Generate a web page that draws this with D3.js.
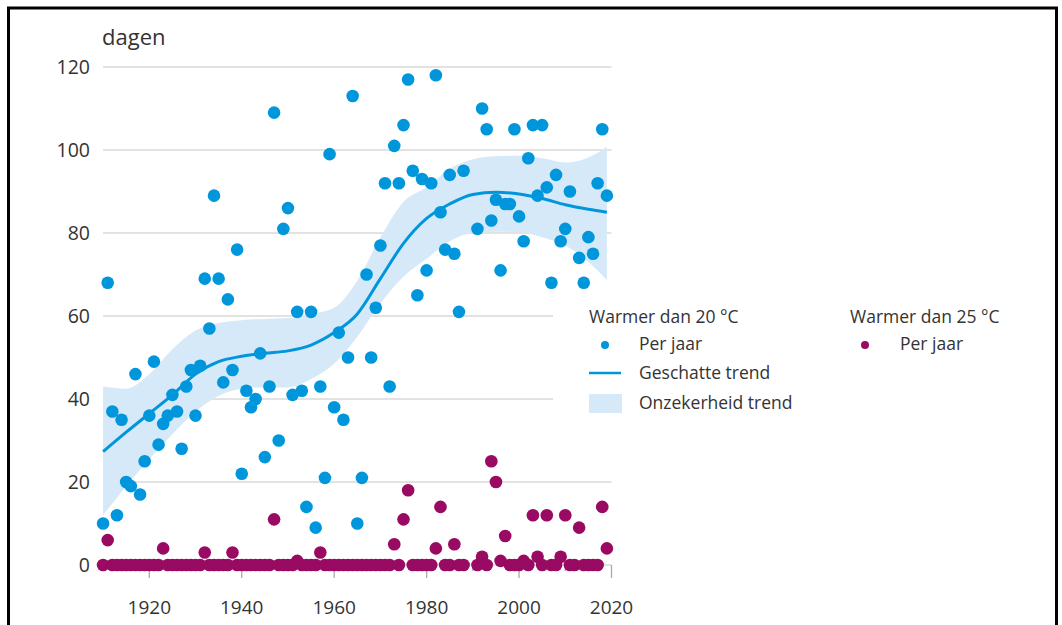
<!DOCTYPE html>
<html>
<head>
<meta charset="utf-8">
<script src="https://cdn.jsdelivr.net/npm/d3@7"></script>
<style>
  body { margin: 0; background: #fff; }
  svg { display: block; font-family: "Open Sans", sans-serif; }
</style>
</head>
<body>
<div id="chart"></div>
<script>
// jaren 1910-2019, null = geen waarde
const years = d3.range(1910, 2020);
const warm20 = [
  10, 68, 37, 12, 35, 20, 19, 46, 17, 25,      // 1910-1919
  36, 49, 29, 34, 36, 41, 37, 28, 43, 47,      // 1920-1929
  36, 48, 69, 57, 89, 69, 44, 64, 47, 76,      // 1930-1939
  22, 42, 38, 40, 51, 26, 43, 109, 30, 81,     // 1940-1949
  86, 41, 61, 42, 14, 61, 9, 43, 21, 99,       // 1950-1959
  38, 56, 35, 50, 113, 10, 21, 70, 50, 62,     // 1960-1969
  77, 92, 43, 101, 92, 106, 117, 95, 65, 93,   // 1970-1979
  71, 92, 118, 85, 76, 94, 75, 61, 95, null,   // 1980-1989
  null, 81, 110, 105, 83, 88, 71, 87, 87, 105, // 1990-1999
  84, 78, 98, 106, 89, 106, 91, 68, 94, 78,    // 2000-2009
  81, 90, null, 74, 68, 79, 75, 92, 105, 89    // 2010-2019
];
const warm25 = [
  0, 6, 0, 0, 0, 0, 0, 0, 0, 0,
  0, 0, 0, 4, 0, 0, 0, 0, 0, 0,
  0, 0, 3, 0, 0, 0, 0, 0, 3, 0,
  0, 0, 0, 0, 0, 0, 0, 11, 0, 0,
  0, 0, 1, 0, 0, 0, 0, 3, 0, 0,
  0, 0, 0, 0, 0, 0, 0, 0, 0, 0,
  0, 0, 0, 5, 0, 11, 18, 0, 0, 0,
  0, 0, 4, 14, 0, 0, 5, 0, 0, null,
  null, 0, 2, 0, 25, 20, 1, 7, 0, 0,
  0, 1, 0, 12, 2, 0, 12, 0, 0, 2,
  12, 0, 0, 9, 0, 0, 0, 0, 14, 4
];
// geschatte trend met onzekerheidsband
const trendYears = [1910, 1915, 1920, 1925, 1930, 1935, 1940, 1945, 1950, 1955, 1960, 1965, 1970, 1975, 1980, 1985, 1990, 1995, 2000, 2005, 2010, 2015, 2019];
const trend =      [27.3, 32, 36.5, 41, 46, 49, 50.3, 51, 51.6, 53, 56, 60.5, 69, 77.5, 83.5, 87, 89.3, 89.8, 89.4, 88.3, 86.8, 85.7, 85];
const trendLow =   [12, 19, 25.5, 31.5, 37, 40.8, 42.5, 42.8, 42.8, 44.8, 48.5, 55, 63, 69.5, 73.8, 78, 80, 80.3, 80.2, 79, 77, 73, 68.7];
const trendHigh =  [43, 42.5, 46, 52, 56.5, 58.3, 59, 59.3, 59.5, 60.5, 62, 68.5, 79, 87.5, 91, 95.5, 97.8, 98.5, 98.6, 98, 97, 98.2, 100.8];
const yTicks = [0, 20, 40, 60, 80, 100, 120];
const xTicks = [1920, 1940, 1960, 1980, 2000, 2020];

const blue = '#0096db', purple = '#990a62', band = '#d6e9f8', ink = '#333';
const W = 1062, H = 625;

const svg = d3.select('#chart').append('svg').attr('width', W).attr('height', H);

// kader
svg.append('rect').attr('x', 8.5).attr('y', 8).attr('width', 1048).attr('height', 640)
  .attr('fill', 'none').attr('stroke', '#000').attr('stroke-width', 3);

const x = d3.scaleLinear().domain([1920, 2020]).range([149.3, 611.5]);
const y = d3.scaleLinear().domain([0, 120]).range([565, 67]);
const x0 = x(1910), x1 = x(2020);

// rasterlijnen
svg.append('g').selectAll('line').data(yTicks).join('line')
  .attr('x1', x0).attr('x2', x1).attr('y1', d => y(d)).attr('y2', d => y(d))
  .attr('stroke', '#d9d9d9').attr('stroke-width', 1.5);

svg.append('g').selectAll('text').data(yTicks).join('text')
  .attr('x', 90).attr('y', d => y(d) + 7).attr('text-anchor', 'end')
  .attr('font-size', 19.5).attr('fill', ink).text(d => d);

svg.append('text').attr('x', 102).attr('y', 45).attr('font-size', 22).attr('fill', ink).text('dagen');

// x-as streepjes
const xAxis = svg.append('g');
xAxis.selectAll('line').data(d3.range(1920, 2021, 10)).join('line')
  .attr('x1', d => x(d)).attr('x2', d => x(d))
  .attr('y1', y(0)).attr('y2', d => y(0) + (d % 20 === 0 ? 13 : 6))
  .attr('stroke', '#aaa').attr('stroke-width', 1.3);
xAxis.selectAll('text').data(xTicks).join('text')
  .attr('x', d => x(d)).attr('y', 614).attr('text-anchor', 'middle')
  .attr('font-size', 19).attr('fill', ink).text(d => d);

// band en trend
const tr = trendYears.map((yr, i) => ({ yr, t: trend[i], lo: trendLow[i], hi: trendHigh[i] }));
svg.append('path').datum(tr).attr('fill', band)
  .attr('d', d3.area().x(d => x(d.yr)).y0(d => y(d.lo)).y1(d => y(d.hi)).curve(d3.curveMonotoneX));
svg.append('path').datum(tr).attr('fill', 'none').attr('stroke', blue).attr('stroke-width', 3)
  .attr('d', d3.line().x(d => x(d.yr)).y(d => y(d.t)).curve(d3.curveMonotoneX));

// punten
const pts20 = years.map((yr, i) => ({ yr, v: warm20[i] })).filter(d => d.v != null);
const pts25 = years.map((yr, i) => ({ yr, v: warm25[i] })).filter(d => d.v != null);
svg.append('g').selectAll('circle').data(pts20).join('circle')
  .attr('cx', d => x(d.yr)).attr('cy', d => y(d.v)).attr('r', 6.3).attr('fill', blue);
svg.append('g').selectAll('circle').data(pts25).join('circle')
  .attr('cx', d => x(d.yr)).attr('cy', d => y(d.v)).attr('r', 6.3).attr('fill', purple);

// legenda
const lg = svg.append('g');
lg.append('rect').attr('x', 553).attr('y', 298).attr('width', 480).attr('height', 125).attr('fill', '#fff');
const txt = (tx, ty, s) => lg.append('text').attr('x', tx).attr('y', ty).attr('font-size', 17.5).attr('fill', ink).text(s);
txt(589, 323, 'Warmer dan 20 °C');
lg.append('circle').attr('cx', 605).attr('cy', 345).attr('r', 4).attr('fill', blue);
txt(639, 350, 'Per jaar');
lg.append('line').attr('x1', 589).attr('x2', 621).attr('y1', 373).attr('y2', 373).attr('stroke', blue).attr('stroke-width', 2.5);
txt(639, 379, 'Geschatte trend');
lg.append('rect').attr('x', 589).attr('y', 394).attr('width', 33).attr('height', 19).attr('fill', band);
txt(639, 409, 'Onzekerheid trend');
txt(850, 323, 'Warmer dan 25 °C');
lg.append('circle').attr('cx', 865).attr('cy', 345).attr('r', 4).attr('fill', purple);
txt(900, 350, 'Per jaar');
</script>
</body>
</html>
